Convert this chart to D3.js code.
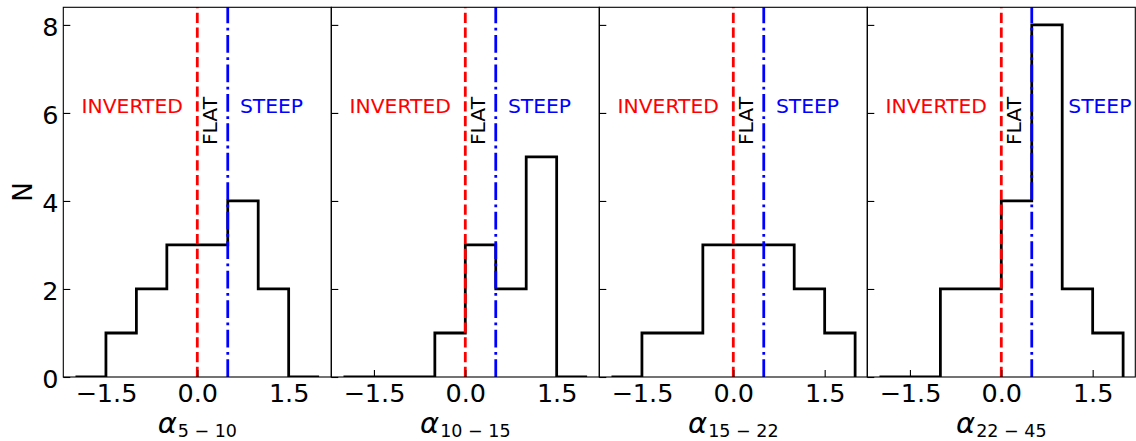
<!DOCTYPE html>
<html><head><meta charset="utf-8">
<script src="https://cdn.jsdelivr.net/npm/d3@7"></script>
<style>body{margin:0;background:#fff}svg{display:block}text{font-family:"DejaVu Sans",sans-serif}</style>
</head><body><svg id="c" width="1136" height="441"></svg>
<script>
// ---- data ----
const binEdges = [-2, -1.5, -1, -0.5, 0, 0.5, 1, 1.5, 2];
const subLabels = ["5 − 10", "10 − 15", "15 − 22", "22 − 45"];
const counts5_10  = [0, 1, 2, 3, 3, 4, 2, 0];
const counts10_15 = [0, 0, 0, 1, 3, 2, 5, 0];
const counts15_22 = [0, 1, 1, 3, 3, 3, 2, 1];
const counts22_45 = [0, 0, 2, 2, 4, 8, 2, 1];
const xTicks = [-1.5, 0, 1.5];
const yTicks = [0, 2, 4, 6, 8];
const flatLimit = 0, steepLimit = 0.5;
const regionNames = ["INVERTED", "FLAT", "STEEP"];
const invertedX = [-1.9, -1.9, -1.9, -1.9];
const steepX = [0.7, 0.7, 0.7, 1.1];
const flatX = [0.32, 0.32, 0.32, 0.33];
const labelY = 6, flatY = 5.27;
const xDomain = [-2.2, 2.2], yDomain = [0, 8.4];

const allCounts = [counts5_10, counts10_15, counts15_22, counts22_45];

// ---- layout ----
const svg = d3.select("#c");
const padL = 63.3, padT = 7.3, pw = 268.0, ph = 369.7;
const y = d3.scaleLinear().domain(yDomain).range([padT + ph, padT]);
const fmt = d3.format(".1f");
const regionFont = 20.3;

allCounts.forEach((counts, i) => {
  const x0 = padL + i * pw;
  const x = d3.scaleLinear().domain(xDomain).range([x0, x0 + pw]);
  const g = svg.append("g");
  const clipId = "clip" + i;
  svg.append("clipPath").attr("id", clipId).append("rect")
    .attr("x", x0).attr("y", padT).attr("width", pw).attr("height", ph);

  // histogram step outline
  const pts = [[binEdges[0], 0]];
  counts.forEach((c, k) => { pts.push([binEdges[k], c]); pts.push([binEdges[k + 1], c]); });
  pts.push([binEdges[binEdges.length - 1], 0]);
  g.append("path").attr("clip-path", `url(#${clipId})`)
    .attr("d", d3.line().x(d => x(d[0])).y(d => y(d[1]))(pts))
    .attr("fill", "none").attr("stroke", "#000").attr("stroke-width", 2.78)
    .attr("stroke-linejoin", "miter");

  // vertical boundary lines
  g.append("line").attr("x1", x(flatLimit)).attr("x2", x(flatLimit))
    .attr("y1", y(yDomain[0])).attr("y2", y(yDomain[1]))
    .attr("stroke", "#ff0000").attr("stroke-width", 2.78).attr("stroke-dasharray", "10.3,4.45");
  g.append("line").attr("x1", x(steepLimit)).attr("x2", x(steepLimit))
    .attr("y1", y(yDomain[0])).attr("y2", y(yDomain[1]))
    .attr("stroke", "#0000ff").attr("stroke-width", 2.78).attr("stroke-dasharray", "17.8,4.45,2.78,4.45");

  // region labels
  g.append("text").attr("x", x(invertedX[i])).attr("y", y(labelY))
    .attr("fill", "#ff0000").attr("font-size", regionFont).text(regionNames[0]);
  g.append("text").attr("x", x(steepX[i])).attr("y", y(labelY))
    .attr("fill", "#0000ff").attr("font-size", regionFont).text(regionNames[2]);
  g.append("text").attr("transform", `translate(${x(flatX[i])},${y(flatY)}) rotate(-90)`)
    .attr("fill", "#000").attr("font-size", regionFont).text(regionNames[1]);

  // axes
  const ax = g.append("g").attr("transform", `translate(0,${padT + ph})`)
    .call(d3.axisBottom(x).tickValues(xTicks).tickSize(-7).tickPadding(7).tickFormat(fmt));
  ax.select(".domain").remove();
  ax.selectAll("line").attr("stroke-width", 1.1);
  ax.selectAll("text").attr("font-size", 25.5).attr("font-family", "DejaVu Sans").attr("fill", "#000");

  const ay = g.append("g").attr("transform", `translate(${x0},0)`)
    .call(d3.axisLeft(y).tickValues(yTicks).tickSize(-7).tickPadding(4.9)
      .tickFormat(i === 0 ? d3.format("d") : () => ""));
  ay.select(".domain").remove();
  ay.selectAll("line").attr("stroke-width", 1.1);
  ay.selectAll("text").attr("font-size", 25.5).attr("font-family", "DejaVu Sans")
    .attr("fill", "#000").attr("dy", "0.41em");

  // frame
  g.append("rect").attr("x", x0).attr("y", padT).attr("width", pw).attr("height", ph)
    .attr("fill", "none").attr("stroke", "#000").attr("stroke-width", 1.1);

  // x label
  const xl = g.append("text").attr("x", x0 + pw / 2).attr("y", 433)
    .attr("text-anchor", "middle").attr("fill", "#000");
  xl.append("tspan").attr("font-size", 29).attr("font-style", "italic").text("α");
  xl.append("tspan").attr("font-size", 17.5).attr("dy", 3.7).attr("dx", 1).text(subLabels[i]);
});

// y label
svg.append("text").attr("transform", `translate(31.7,${padT + ph / 2}) rotate(-90)`)
  .attr("text-anchor", "middle").attr("font-size", 26).attr("fill", "#000").text("N");
</script></body></html>
